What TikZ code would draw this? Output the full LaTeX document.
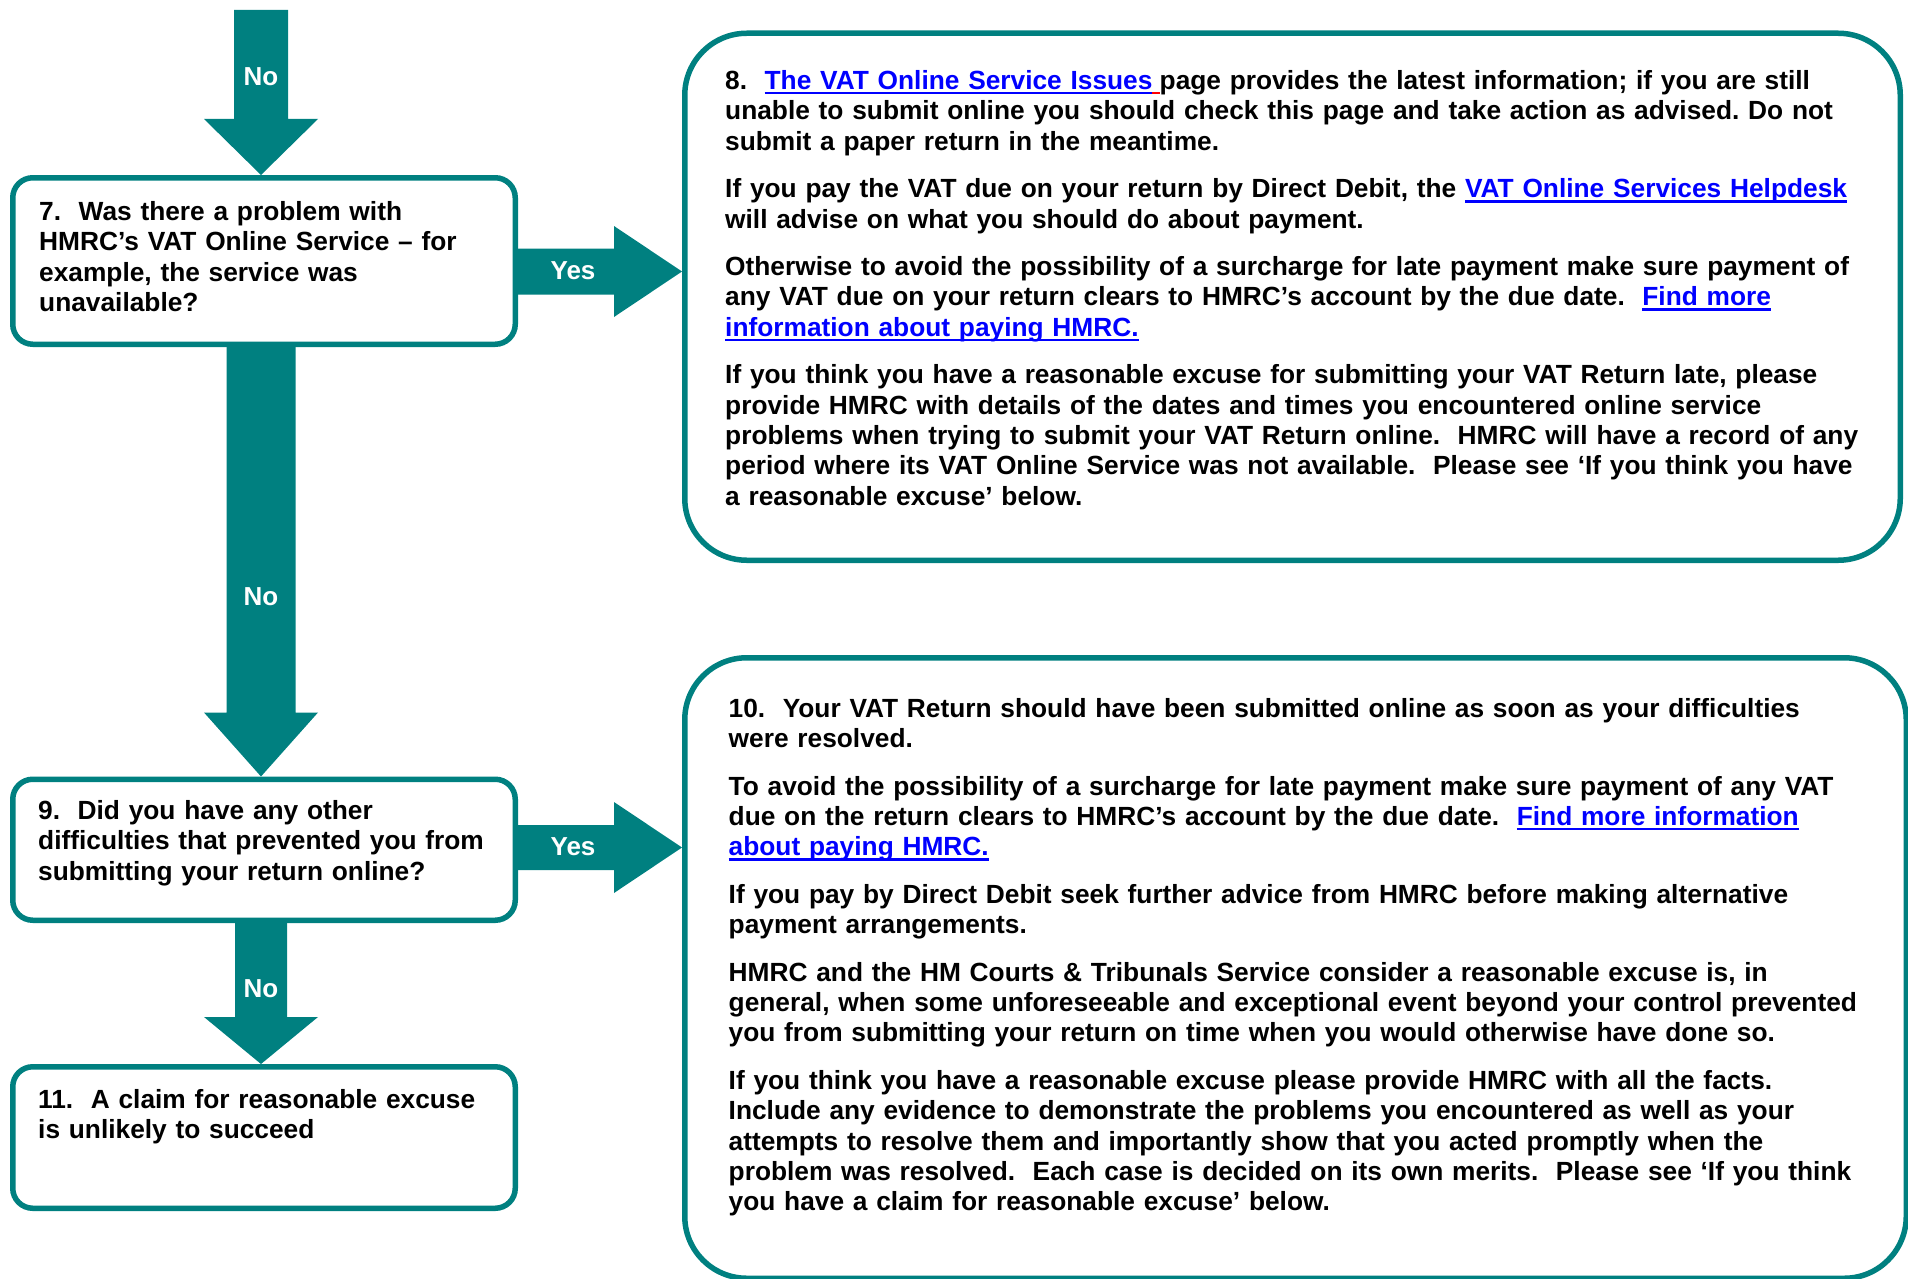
\documentclass[tikz,border=0pt]{standalone}
\usepackage{fontspec}
\setmainfont{Liberation Sans}
\usetikzlibrary{calc}
\definecolor{hmrcteal}{RGB}{0,128,128}
\definecolor{linkblue}{RGB}{0,0,255}
\newsavebox{\lnkbox}
\newcommand{\lnk}[1]{\leavevmode{\color{linkblue}\sbox{\lnkbox}{#1}\rlap{\rule[-5pt]{\wd\lnkbox}{2.6pt}}\usebox{\lnkbox}}}
\newcommand{\downblk}[5]{%
  \fill[blk] ($(#1)+(-#3,0)$) -- ($(#1)+(#3,0)$) -- ($(#2)+(#3,-#5)$) -- ($(#2)+(#4,-#5)$) -- (#2) -- ($(#2)+(-#4,-#5)$) -- ($(#2)+(-#3,-#5)$) -- cycle;}
\newcommand{\rightblk}[5]{%
  \fill[blk] ($(#1)+(0,-#3)$) -- ($(#2)+(-#5,-#3)$) -- ($(#2)+(-#5,-#4)$) -- (#2) -- ($(#2)+(-#5,#4)$) -- ($(#2)+(-#5,#3)$) -- ($(#1)+(0,#3)$) -- cycle;}
\tikzset{
  qbox/.style={draw=hmrcteal, line width=5.5pt, rounded corners=20pt, fill=white, inner sep=0pt},
  abox/.style={draw=hmrcteal, line width=5.5pt, rounded corners=62pt, fill=white, inner sep=0pt},
  body/.style={anchor=north west, inner sep=0pt, text width=1200pt, align=left,
    font=\fontsize{26.3}{30.4}\selectfont\bfseries\frenchspacing},
  lbl/.style={text=white, font=\fontsize{26}{30}\selectfont\bfseries, inner sep=0pt},
  blk/.style={fill=hmrcteal},
}
\begin{document}
\begin{tikzpicture}[x=1pt,y=-1pt]
\useasboundingbox (0,0) rectangle (1908,1279);
% boxes
\node[qbox, minimum width=502.5pt, minimum height=166.5pt] (b7) at (264,261) {};
\node[qbox, minimum width=502.5pt, minimum height=141pt] (b9) at (264,849.75) {};
\node[qbox, minimum width=502.5pt, minimum height=141.5pt] (b11) at (264,1137.5) {};
\node[abox, minimum width=1215.5pt, minimum height=527pt] (b8) at (1292.5,296.75) {};
\node[abox, minimum width=1221.5pt, minimum height=620.5pt] (b10) at (1295.5,968) {};
% block arrows
\coordinate (in7) at (261,10);
\coordinate (tip7) at (b7.north -| in7);
\downblk{in7}{tip7}{27}{57}{56}
\coordinate (s9) at (b7.south -| in7);
\coordinate (tip9) at (b9.north -| in7);
\downblk{s9}{tip9}{34.5}{57}{64}
\coordinate (s11) at (b9.south -| in7);
\coordinate (tip11) at (b11.north -| in7);
\downblk{s11}{tip11}{26}{57}{47}
\coordinate (h8) at (0,271.5);
\coordinate (ys8) at (b7.east |- h8);
\coordinate (yt8) at (b8.west |- h8);
\rightblk{ys8}{yt8}{23}{45.5}{68}
\coordinate (h10) at (0,847.5);
\coordinate (ys10) at (b9.east |- h10);
\coordinate (yt10) at (b10.west |- h10);
\rightblk{ys10}{yt10}{22.5}{45.5}{68}
% labels
\node[lbl] (no1) at (261,77) {No};
\node[lbl] (no2) at (261,597) {No};
\node[lbl] (no3) at (261,989) {No};
\node[lbl] (yes1) at (573,271) {Yes};
\node[lbl] (yes2) at (573,847) {Yes};
% texts
\node[body] (t7) at (39,198.72) {\strut 7.\ \ Was there a problem with\\
HMRC’s VAT Online Service – for\\
example, the service was\\
unavailable?};
\node[body] (t9) at (38,797.72) {\strut 9.\ \ Did you have any other\\
difficulties that prevented you from\\
submitting your return online?};
\node[body] (t11) at (38,1086.72) {\strut 11.\ \ A claim for reasonable excuse\\
is unlikely to succeed};
\node[body] (t8) at (725,68.02) {\strut 8.\ \ \lnk{The VAT Online Service Issues}{\color{red}\rule[-5pt]{7.2pt}{2.6pt}}page provides the latest information; if you are still\\
unable to submit online you should check this page and take action as advised. Do not\\
submit a paper return in the meantime.\\[17pt]
If you pay the VAT due on your return by Direct Debit, the \lnk{VAT Online Services Helpdesk}\\
will advise on what you should do about payment.\\[17pt]
Otherwise to avoid the possibility of a surcharge for late payment make sure payment of\\
any VAT due on your return clears to HMRC’s account by the due date.\ \ \lnk{Find more}\\
\lnk{information about paying HMRC.}\\[17pt]
If you think you have a reasonable excuse for submitting your VAT Return late, please\\
provide HMRC with details of the dates and times you encountered online service\\
problems when trying to submit your VAT Return online.\ \ HMRC will have a record of any\\
period where its VAT Online Service was not available.\ \ Please see ‘If you think you have\\
a reasonable excuse’ below.};
\node[body] (t10) at (728.5,695.72) {\strut 10.\ \ Your VAT Return should have been submitted online as soon as your difficulties\\
were resolved.\\[17pt]
To avoid the possibility of a surcharge for late payment make sure payment of any VAT\\
due on the return clears to HMRC’s account by the due date.\ \ \lnk{Find more information}\\
\lnk{about paying HMRC.}\\[17pt]
If you pay by Direct Debit seek further advice from HMRC before making alternative\\
payment arrangements.\\[17pt]
HMRC and the HM Courts \& Tribunals Service consider a reasonable excuse is, in\\
general, when some unforeseeable and exceptional event beyond your control prevented\\
you from submitting your return on time when you would otherwise have done so.\\[17pt]
If you think you have a reasonable excuse please provide HMRC with all the facts.\\
Include any evidence to demonstrate the problems you encountered as well as your\\
attempts to resolve them and importantly show that you acted promptly when the\\
problem was resolved.\ \ Each case is decided on its own merits.\ \ Please see ‘If you think\\
you have a claim for reasonable excuse’ below.};
\end{tikzpicture}
\end{document}
